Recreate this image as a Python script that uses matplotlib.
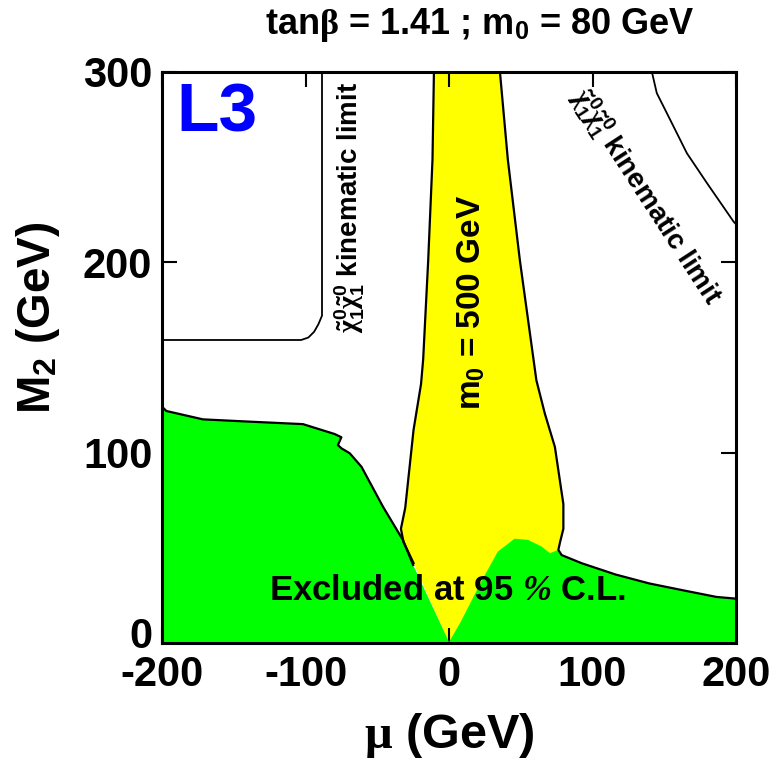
import matplotlib
matplotlib.use('Agg')
import matplotlib.pyplot as plt
from matplotlib.transforms import ScaledTranslation

# fonts: bold sans like Helvetica, greek from a serif face (Symbol-like)
plt.rcParams['font.family'] = ['Liberation Sans', 'DejaVu Sans']
plt.rcParams['font.weight'] = 'bold'
plt.rcParams['axes.unicode_minus'] = False
plt.rcParams['mathtext.fontset'] = 'custom'
plt.rcParams['mathtext.rm'] = 'Liberation Sans:bold'
plt.rcParams['mathtext.bf'] = 'Liberation Sans:bold'
plt.rcParams['mathtext.sf'] = 'Liberation Sans'
plt.rcParams['mathtext.it'] = 'Liberation Serif'
plt.rcParams['mathtext.cal'] = 'Liberation Serif:italic'

# m0 = 500 GeV band (yellow), left and right edges, top -> bottom
band_left_mu = [-10.5, -11.5, -14.5, -18, -19.5, -24.7, -30.5, -33.5, -31.7, -24.7]
band_left_m2 = [300, 254, 201, 149, 136, 112, 71, 60, 53, 42]
band_right_mu = [35.5, 41, 49.4, 60.9, 66.8, 73.8, 79.7, 79.7, 77.4, 76.2]
band_right_m2 = [300, 254, 201, 138, 120.5, 103, 73, 60, 53, 48.9]

# excluded region (green) upper edge, left -> right
excl_left_mu = [-200, -197, -171.5, -139, -101.8, -79.7, -75, -77.4, -75, -69.2, -61, -46, -32, -25]
excl_left_m2 = [124.2, 121.9, 117.5, 116.3, 115, 109.8, 108.1, 104, 102.3, 99.7, 92.6, 71.6, 54, 41]
excl_mid_mu = [0, 8.1, 22.3, 34, 45.7, 55, 64.5, 70.3, 76.2]
excl_mid_m2 = [0.5, 11, 32, 48, 54.8, 54.2, 50.7, 47.2, 48.9]
excl_right_mu = [78.5, 92.5, 116, 139.5, 163, 186.4, 200]
excl_right_m2 = [46.2, 41.9, 36, 31.3, 27.7, 24.2, 23.3]

# chargino/neutralino kinematic limits
kin1_mu = [-200, -103, -98, -94, -91, -88.5, -88.5]
kin1_m2 = [159.2, 159.2, 160.5, 163.5, 167.5, 172, 300]
kin2_mu = [141.4, 144.8, 154.2, 165.8, 179.8, 198.3, 200]
kin2_m2 = [300, 288.9, 274.8, 257.3, 241.6, 221.4, 220]

fig = plt.figure(figsize=(7.73, 7.65), dpi=100)
ax = fig.add_axes([162/773, 1-643/765, (736-162)/773, (643-72)/765])

# yellow band
yx = band_left_mu + [0, 76.2] + band_right_mu[::-1]
yy = band_left_m2 + [0, 0] + band_right_m2[::-1]
ax.fill(yx, yy, color='#ffff00', lw=0, zorder=1)

# green excluded region
gx = [-200] + excl_left_mu + excl_mid_mu + excl_right_mu + [200]
gy = [0] + excl_left_m2 + excl_mid_m2 + excl_right_m2 + [0]
ax.fill(gx, gy, color='#00ff00', lw=0, zorder=2)

lw = 1.6
ax.plot(band_left_mu, band_left_m2, color='k', lw=lw, zorder=3)
ax.plot(band_right_mu + excl_right_mu, band_right_m2 + excl_right_m2, color='k', lw=lw, zorder=3)
ax.plot(excl_left_mu, excl_left_m2, color='k', lw=lw, zorder=3)
ax.plot(kin1_mu, kin1_m2, color='k', lw=1.3, zorder=3)
ax.plot(kin2_mu, kin2_m2, color='k', lw=1.3, zorder=3)

ax.set_xlim(-200, 200)
ax.set_ylim(0, 300)
ax.set_xticks([-200, -100, 0, 100, 200])
ax.set_yticks([0, 100, 200, 300])
ax.tick_params(direction='in', length=11, width=1.5, top=True, right=True,
               labelsize=30)
ax.tick_params(axis='x', pad=9)
ax.tick_params(axis='y', pad=7)
for lab in ax.get_xticklabels() + ax.get_yticklabels():
    lab.set_fontweight('bold')
# lift the "0" on the y axis a bit so it clears "-200"
zero = ax.get_yticklabels()[0]
zero.set_transform(zero.get_transform() + ScaledTranslation(0, 11/100, fig.dpi_scale_trans))
for sp in ax.spines.values():
    sp.set_linewidth(2.2)

# labels
fig.text(480/773, 1-25/765, r'tan$\beta$ = 1.41 ; m$_0$ = 80 GeV',
         ha='center', va='center', fontsize=26, fontweight='bold')
fig.text(449/773, 1-735/765, r'$\mu$ (GeV)', ha='center', va='center',
         fontsize=35, fontweight='bold')
fig.text(38/773, 1-318/765, r'M$_\mathsf{2}$ (GeV)', ha='center', va='center',
         rotation=90, fontsize=33, fontweight='bold')

fig.text(176/773, 1-132/765, 'L3', color='#0000ff', fontsize=50,
         fontweight='bold', ha='left', va='baseline')

fig.text(471/773, 1-302/765, r'm$_0$ = 500 GeV', rotation=90,
         ha='center', va='center', fontsize=24, fontweight='bold')
fig.text(350/773, 1-207/765,
         r'$\tilde{\chi}_\mathsf{1}^\mathsf{0}\tilde{\chi}_\mathsf{1}^\mathsf{0}$ kinematic limit',
         rotation=90, ha='center', va='center', fontsize=20, fontweight='bold')
fig.text(646/773, 1-197/765,
         r'$\tilde{\chi}_\mathsf{1}^\mathsf{0}\tilde{\chi}_\mathsf{1}^\mathsf{0}$ kinematic limit',
         rotation=-57, ha='center', va='center', fontsize=20, fontweight='bold')
fig.text(447/773, 1-590/765, r'Excluded at 95 $\mathcal{\%}$ C.L.',
         ha='center', va='center', fontsize=25, fontweight='bold')

fig.savefig('out.png', dpi=100)
